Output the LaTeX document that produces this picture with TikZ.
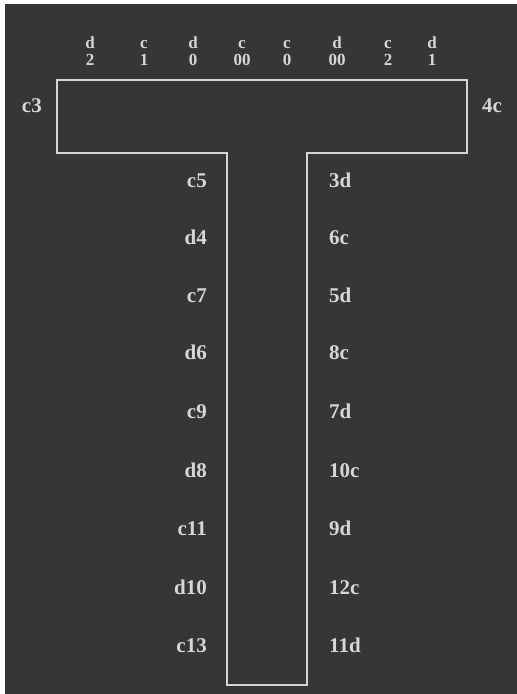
\documentclass[tikz,border=0pt]{standalone}
\usepackage{fontspec}
\setmainfont{Liberation Serif}
\usepackage{tikz}

\definecolor{board}{HTML}{363636}
\definecolor{chalk}{HTML}{D6D6D6}

\begin{document}
\begin{tikzpicture}[x=1pt, y=-1pt]
		\tikzstyle{label text}=[text=chalk, font=\bfseries\fontsize{21}{24}\selectfont, inner sep=0pt];
		\tikzstyle{mark top}=[label text, font=\bfseries\fontsize{17}{19}\selectfont, anchor=base];
		\tikzstyle{mark left}=[label text, anchor=base east];
		\tikzstyle{mark right}=[label text, anchor=base west];
		\tikzstyle{outline}=[draw=chalk, line width=2.2pt];

		\useasboundingbox (0,0) rectangle (517,694);
		\fill[white] (0,0) rectangle (517,694);
		\fill[board] (5,4) rectangle (517,694);

		% the T
		\draw[outline] (57,80) -- (467,80) -- (467,153) -- (307,153) -- (307,685)
			-- (227,685) -- (227,153) -- (57,153) -- cycle;

		% top row
		\node[mark top] (t1) at (90,48) {d};
		\node[mark top] (t2) at (144,48) {c};
		\node[mark top] (t3) at (193,48) {d};
		\node[mark top] (t4) at (242,48) {c};
		\node[mark top] (t5) at (287,48) {c};
		\node[mark top] (t6) at (337,48) {d};
		\node[mark top] (t7) at (388,48) {c};
		\node[mark top] (t8) at (432,48) {d};
		\node[mark top] (b1) at (90,65) {2};
		\node[mark top] (b2) at (144,65) {1};
		\node[mark top] (b3) at (193,65) {0};
		\node[mark top] (b4) at (242,65) {00};
		\node[mark top] (b5) at (287,65) {0};
		\node[mark top] (b6) at (337,65) {00};
		\node[mark top] (b7) at (388,65) {2};
		\node[mark top] (b8) at (432,65) {1};

		% ends of the bar
		\node[mark left] (c3) at (42,112) {c3};
		\node[mark right] (c4) at (482,112) {4c};

		% left of the stem
		\node[mark left] (l1) at (207,187) {c5};
		\node[mark left] (l2) at (207,244) {d4};
		\node[mark left] (l3) at (207,302) {c7};
		\node[mark left] (l4) at (207,359) {d6};
		\node[mark left] (l5) at (207,418) {c9};
		\node[mark left] (l6) at (207,477) {d8};
		\node[mark left] (l7) at (207,535) {c11};
		\node[mark left] (l8) at (207,594) {d10};
		\node[mark left] (l9) at (207,652) {c13};

		% right of the stem
		\node[mark right] (r1) at (329,187) {3d};
		\node[mark right] (r2) at (329,244) {6c};
		\node[mark right] (r3) at (329,302) {5d};
		\node[mark right] (r4) at (329,359) {8c};
		\node[mark right] (r5) at (329,418) {7d};
		\node[mark right] (r6) at (329,477) {10c};
		\node[mark right] (r7) at (329,535) {9d};
		\node[mark right] (r8) at (329,594) {12c};
		\node[mark right] (r9) at (329,652) {11d};
	\end{tikzpicture}
\end{document}
